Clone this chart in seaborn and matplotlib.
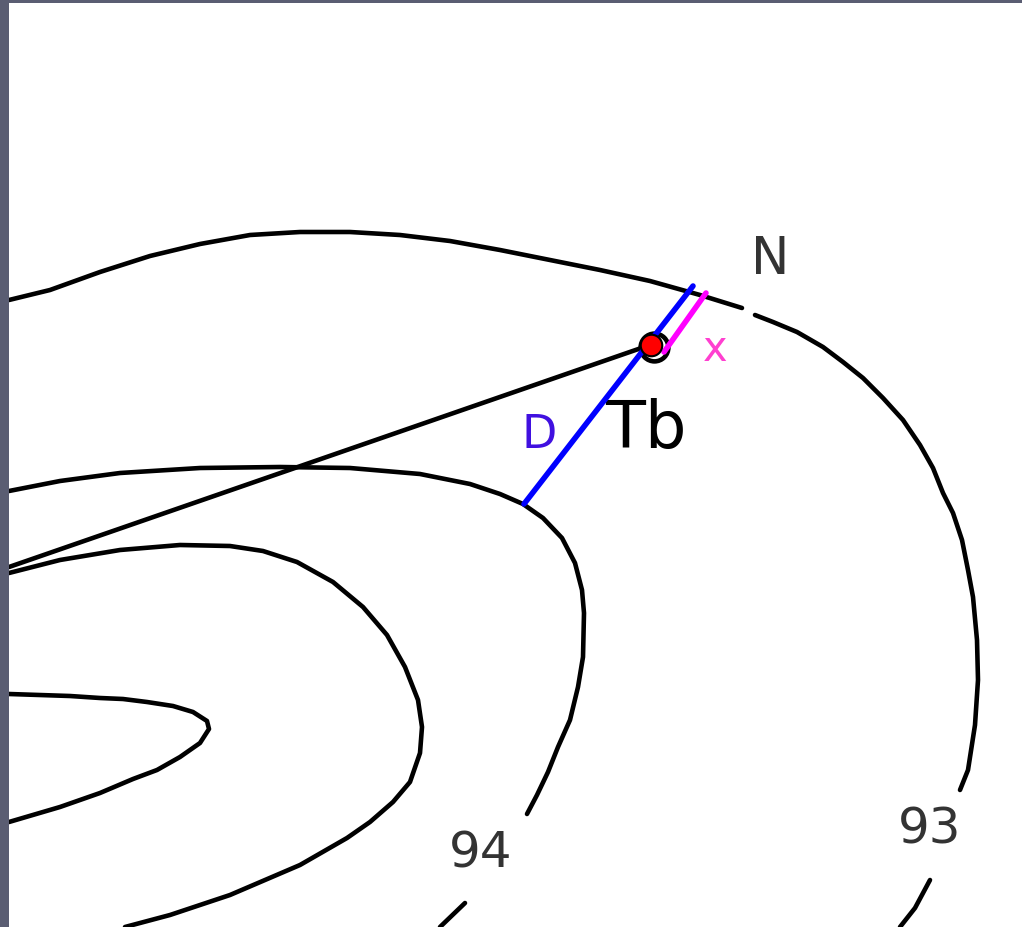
import matplotlib
matplotlib.use("Agg")
import matplotlib.pyplot as plt
import pandas as pd
import seaborn as sns

# contours (pixel positions)
c93_a_x = [9, 50, 100, 150, 200, 250, 300, 350, 400, 450, 500, 550, 600, 650, 700, 742]
c93_a_y = [300, 290, 272, 256, 244, 235, 232, 232, 235, 241, 250, 260, 270, 281, 295, 308]
c93_b_x = [755, 773, 797, 823, 843, 863, 883, 903, 920, 933, 943, 953, 962, 968, 973, 977, 978, 975, 968, 960]
c93_b_y = [315, 322, 332, 347, 362, 378, 398, 420, 445, 468, 493, 513, 540, 570, 597, 640, 680, 725, 770, 790]
c93_c_x = [930, 915, 900]
c93_c_y = [880, 908, 927]
c94_a_x = [9, 60, 120, 200, 280, 350, 420, 470, 500, 523, 543, 562, 575, 582, 584, 583, 578, 570, 558, 548, 537, 527]
c94_a_y = [491, 481, 473, 468, 467, 468, 474, 484, 494, 504, 518, 538, 563, 590, 613, 657, 687, 720, 747, 772, 795, 814]
c94_b_x = [465, 440]
c94_b_y = [903, 927]
c95_x = [9, 60, 120, 180, 230, 263, 297, 333, 363, 387, 405, 418, 422, 420, 410, 393, 370, 347, 300, 230, 170, 125]
c95_y = [573, 560, 550, 545, 546, 551, 562, 582, 607, 635, 667, 700, 727, 753, 782, 802, 822, 838, 865, 895, 915, 927]
c96_x = [9, 70, 100, 123, 147, 173, 193, 207, 209, 200, 180, 157, 133, 100, 60, 9]
c96_y = [694, 696, 698, 699, 702, 706, 712, 721, 729, 743, 757, 770, 779, 793, 807, 822]

# straight segments
ray_x = [9, 650]
ray_y = [567, 345]
d_x = [524, 693]
d_y = [504, 286]
x_seg_x = [664, 706]
x_seg_y = [352, 293]

# well
well_x = [651]
well_y = [345]
ring_x = [654]
ring_y = [347]

labels = ["N", "x", "D", "Tb", "94", "93"]
label_x = [770, 715, 539, 646, 481, 930]
label_y = [260, 349, 436, 430, 853, 829]
label_col = ["#333333", "#ff3fd0", "#4010e0", "#000000", "#333333", "#333333"]
label_size = [37, 30, 33, 47, 36, 36]

sns.set_style("white")

fig = plt.figure(figsize=(10.22, 9.27), dpi=100, facecolor="#5a5d72")
ax = fig.add_axes([9 / 1022, 0, 1 - 9 / 1022, 1 - 3 / 927])


def draw(xs, ys, color="black", lw=3.3):
    df = pd.DataFrame({"x": xs, "y": ys})
    sns.lineplot(data=df, x="x", y="y", sort=False, estimator=None,
                 color=color, linewidth=lw, ax=ax)


for xs, ys in [(c93_a_x, c93_a_y), (c93_b_x, c93_b_y), (c93_c_x, c93_c_y),
               (c94_a_x, c94_a_y), (c94_b_x, c94_b_y),
               (c95_x, c95_y), (c96_x, c96_y), (ray_x, ray_y)]:
    draw(xs, ys)

sns.scatterplot(x=ring_x, y=ring_y, s=400, color="white", edgecolor="black",
                linewidth=3.3, ax=ax, zorder=3)
draw(d_x, d_y, color="#0000ff", lw=4)
draw(x_seg_x, x_seg_y, color="#ff00ff", lw=4)
ax.lines[-1].set_zorder(4)
ax.lines[-2].set_zorder(4)
sns.scatterplot(x=well_x, y=well_y, s=240, color="#ff0000", edgecolor="black",
                linewidth=1.5, ax=ax, zorder=5)

for t, tx, ty, c, s in zip(labels, label_x, label_y, label_col, label_size):
    ax.text(tx, ty, t, color=c, fontsize=s, ha="center", va="center")

ax.set_xlim(9, 1022)
ax.set_ylim(927, 3)
ax.set_xlabel("")
ax.set_ylabel("")
ax.set_xticks([])
ax.set_yticks([])
sns.despine(ax=ax, left=True, bottom=True)

fig.savefig("out.png", dpi=100, facecolor=fig.get_facecolor())
